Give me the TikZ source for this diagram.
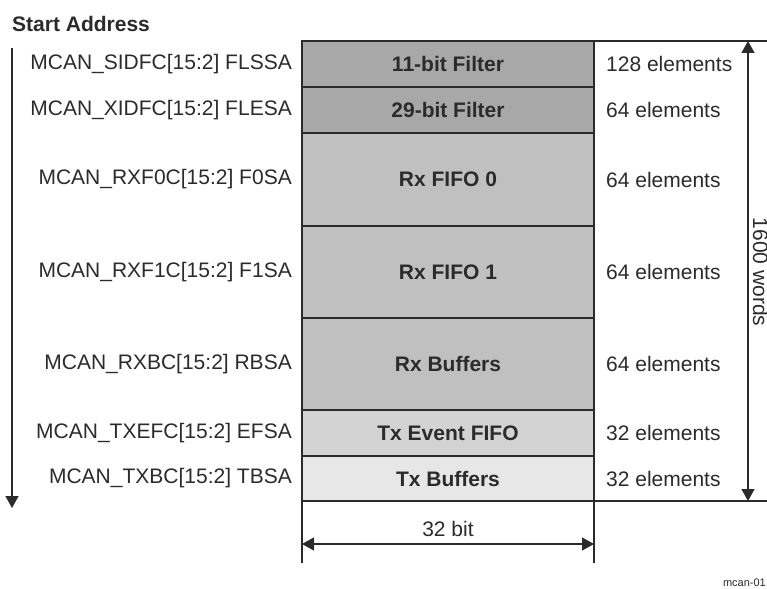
\documentclass[tikz,border=0pt]{standalone}
\usepackage{fontspec}
\setmainfont{Liberation Sans}
\usetikzlibrary{arrows.meta}
\definecolor{ink}{HTML}{2B2B2B}
\definecolor{filtgray}{HTML}{A8A8A8}
\definecolor{rxgray}{HTML}{C0C0C0}
\definecolor{evgray}{HTML}{D3D3D3}
\definecolor{txgray}{HTML}{E7E7E7}

\begin{document}
\begin{tikzpicture}[x=1pt,y=-1pt,>={Triangle[length=12pt,width=13pt]},
  txt/.style={font=\fontsize{21}{25}\selectfont,text=ink,inner sep=0pt},
  row/.style={draw=ink,line width=2pt,minimum width=292pt,inner sep=0pt,outer sep=0pt,
    font=\fontsize{21}{25}\selectfont\bfseries,text=ink},
  dimline/.style={ink,line width=1.4pt}]
\useasboundingbox (0,0) rectangle (767,588);
\node[txt,font=\fontsize{21}{25}\selectfont\bfseries,anchor=base west] (title) at (12,32) {Start Address};
% memory rows
\foreach \n/\yt/\yb/\fc/\lbl/\adr/\cnt in {
  sidf/41/87/filtgray/11-bit Filter/MCAN\_SIDFC[15:2] FLSSA/128,
  xidf/87/133/filtgray/29-bit Filter/MCAN\_XIDFC[15:2] FLESA/64,
  rxfa/133/226/rxgray/Rx FIFO 0/MCAN\_RXF0C[15:2] F0SA/64,
  rxfb/226/318/rxgray/Rx FIFO 1/MCAN\_RXF1C[15:2] F1SA/64,
  rxb/318/410/rxgray/Rx Buffers/MCAN\_RXBC[15:2] RBSA/64,
  txef/410/456/evgray/Tx Event FIFO/MCAN\_TXEFC[15:2] EFSA/32,
  txb/456/501/txgray/Tx Buffers/MCAN\_TXBC[15:2] TBSA/32}{
  \node[row,fill=\fc,minimum height={(\yb-\yt)*1pt}] (\n) at (448,{(\yt+\yb)/2}) {\lbl};
  \node[txt,anchor=east] (\n-adr) at (292,{(\yt+\yb)/2}) {\adr};
  \node[txt,anchor=west] (\n-cnt) at (606,{(\yt+\yb)/2}) {\cnt\ elements};}
% address direction
\coordinate (adrtop) at (12,48);
\coordinate (adrend) at (12,508);
\draw[dimline,->] (adrtop) -- (adrend);
% total size
\coordinate (topr) at (767,41);
\coordinate (botr) at (767,501);
\draw[ink,line width=1.4pt] (sidf.north east) -- (topr);
\draw[ink,line width=1.4pt] (txb.south east) -- (botr);
\coordinate (wtop) at (748,41);
\coordinate (wbot) at (748,501);
\draw[dimline,<->] (wtop) -- (wbot);
\node[txt,rotate=-90,anchor=base] (words) at (753,272) {1600 words};
% width
\coordinate (bl) at (302,563);
\coordinate (br) at (594,563);
\draw[ink,line width=1.4pt] (txb.south west) -- (bl);
\draw[ink,line width=1.4pt] (txb.south east) -- (br);
\coordinate (wl) at (302,544);
\coordinate (wr) at (594,544);
\draw[dimline,<->] (wl) -- (wr);
\node[txt] (bits) at (448,529) {32 bit};
\node[txt,font=\fontsize{11}{13}\selectfont,anchor=east] (fig) at (766,583) {mcan-01};
\end{tikzpicture}
\end{document}
